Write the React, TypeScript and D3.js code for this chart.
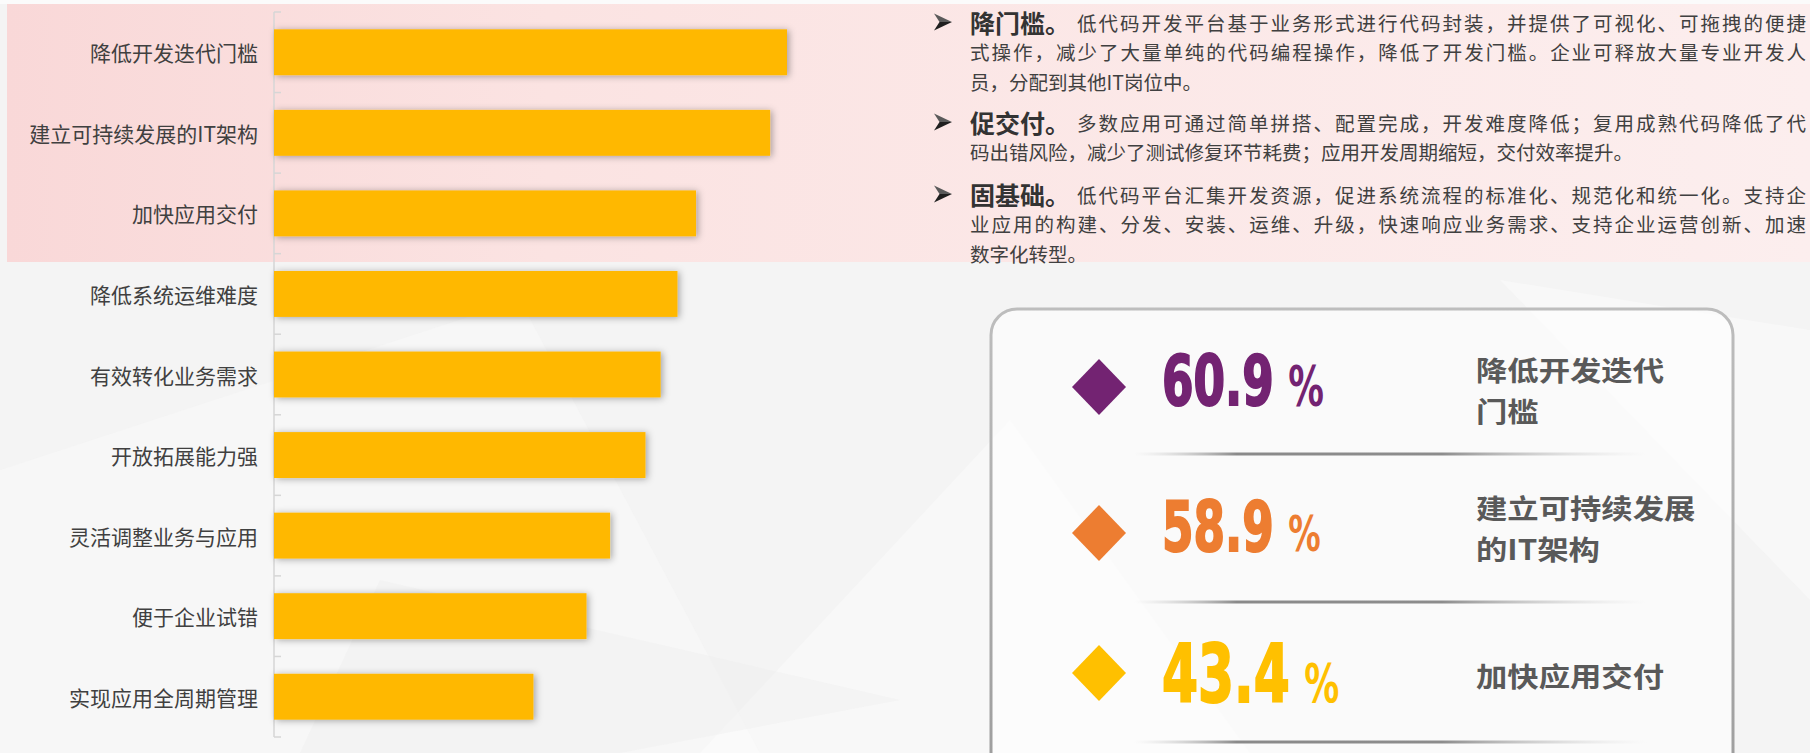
import React from 'react';
import * as d3 from 'd3';

const W = 1810;
const H = 753;

// bar chart data
const categories = [
  '降低开发迭代门槛',
  '建立可持续发展的IT架构',
  '加快应用交付',
  '降低系统运维难度',
  '有效转化业务需求',
  '开放拓展能力强',
  '灵活调整业务与应用',
  '便于企业试错',
  '实现应用全周期管理',
];
const values = [60.9, 58.9, 50.1, 47.9, 45.9, 44.1, 39.9, 37.1, 30.8];

// KPI panel
const kpiValues = ['60.9', '58.9', '43.4'];
const kpiLabels = [['降低开发迭代', '门槛'], ['建立可持续发展', '的IT架构'], ['加快应用交付']];
const kpiColors = ['#732372', '#ED7D31', '#FFC000'];

// text block
const paraTitles = ['降门槛。', '促交付。', '固基础。'];
const paraLines = [
  [
    '低代码开发平台基于业务形式进行代码封装，并提供了可视化、可拖拽的便捷',
    '式操作，减少了大量单纯的代码编程操作，降低了开发门槛。企业可释放大量专业开发人',
    '员，分配到其他IT岗位中。',
  ],
  [
    '多数应用可通过简单拼搭、配置完成，开发难度降低；复用成熟代码降低了代',
    '码出错风险，减少了测试修复环节耗费；应用开发周期缩短，交付效率提升。',
  ],
  [
    '低代码平台汇集开发资源，促进系统流程的标准化、规范化和统一化。支持企',
    '业应用的构建、分发、安装、运维、升级，快速响应业务需求、支持企业运营创新、加速',
    '数字化转型。',
  ],
];

// layout (not data)
const paraTop = [22, 122, 194];
const lineH = 29.5;
const kpiRowY = [387, 533, 673];
const kpiNumSize = [70, 70, 80];
const kpiPctSize = [55, 50, 54];
const kpiLabelY = [369, 507, 675];
const sepY = [454, 602, 742];

const CJK = "'Noto Sans CJK SC', 'Noto Sans', sans-serif";
const NUM = "'DejaVu Sans Condensed', 'DejaVu Sans', sans-serif";

export default function App() {
  const y = d3.scaleBand<string>()
    .domain(categories)
    .range([12, 737])
    .paddingInner(0.43)
    .paddingOuter(0.215);
  const x = d3.scaleLinear()
    .domain([0, d3.max(values) as number])
    .range([274, 787]);

  const ticks = d3.range(categories.length + 1).map(i => y.range()[0] + i * y.step());

  const textL = 970;
  const bodyL = 1077;
  const textR = 1806;

  return (
    <svg width={W} height={H} style={{ position: 'absolute', left: 0, top: 0, display: 'block' }}>
      <defs>
        <linearGradient id="pink" x1="0" x2="1" y1="0" y2="0">
          <stop offset="0" stopColor="#F9D8D8" />
          <stop offset="0.3" stopColor="#FBE3E2" />
          <stop offset="1" stopColor="#FCEEEE" />
        </linearGradient>
        <linearGradient id="sep" x1="0" x2="1" y1="0" y2="0">
          <stop offset="0" stopColor="#cfcfcf" stopOpacity="0" />
          <stop offset="0.2" stopColor="#8a8a8a" />
          <stop offset="0.6" stopColor="#8c8c8c" />
          <stop offset="1" stopColor="#d8d8d8" stopOpacity="0" />
        </linearGradient>
        <linearGradient id="boxStroke" x1="0" x2="0" y1="0" y2="1">
          <stop offset="0" stopColor="#bdbdbd" />
          <stop offset="1" stopColor="#9a9a9a" />
        </linearGradient>
        <filter id="barShadow" x="-10%" y="-60%" width="125%" height="220%">
          <feDropShadow dx="2" dy="1" stdDeviation="3.5" floodColor="#000" floodOpacity="0.33" />
        </filter>
      </defs>

      {/* background */}
      <rect width={W} height={H} fill="#F4F4F4" />
      <polygon points="0,470 520,300 760,753 0,753" fill="#fafafa" opacity={0.5} />
      <polygon points="700,753 1010,420 1250,753" fill="#ffffff" opacity={0.35} />
      <polygon points="1500,280 1810,330 1810,600" fill="#fafafa" opacity={0.6} />
      <polygon points="380,580 900,700 620,753 300,753" fill="#ededed" opacity={0.4} />
      <rect x={0} y={0} width={W} height={4} fill="#FBFBFB" />
      <rect x={7} y={4} width={W - 7} height={258} fill="url(#pink)" />

      {/* axis */}
      <line x1={274} x2={274} y1={ticks[0]} y2={ticks[ticks.length - 1]} stroke="#D6D6D6" strokeWidth={1.5} />
      {ticks.map((t, i) => (
        <line key={i} x1={274} x2={281} y1={t} y2={t} stroke="#D6D6D6" strokeWidth={1.5} />
      ))}

      {/* bars */}
      <g filter="url(#barShadow)">
        {categories.map((c, i) => (
          <rect key={c} x={x(0)} y={y(c)} width={x(values[i]) - x(0)} height={y.bandwidth()} fill="#FFB800" />
        ))}
      </g>
      {categories.map(c => (
        <text key={c} x={258} y={(y(c) as number) + y.bandwidth() / 2} textAnchor="end" dominantBaseline="central"
          fontFamily={CJK} fontSize={21} fill="#404040">{c}</text>
      ))}

      {/* text paragraphs */}
      {paraTitles.map((t, p) => {
        const top = paraTop[p];
        const lines = paraLines[p];
        return (
          <g key={t}>
            <g transform={`translate(934,${top})`}>
              <path d="M0,-8.5 L18,0 L5.5,0 Z" fill="#5a5a5a" />
              <path d="M5.5,0 L18,0 L0,8.5 Z" fill="#1f1f1f" />
            </g>
            <text x={textL} y={top} dominantBaseline="central" fontFamily={CJK} fontSize={25} fontWeight={700}
              fill="#333">{t}</text>
            {lines.map((ln, i) => {
              const lx = i === 0 ? bodyL : textL;
              const justify = i < lines.length - 1;
              return (
                <text key={i} x={lx} y={top + i * lineH} dominantBaseline="central" fontFamily={CJK} fontSize={19.5}
                  fill="#404040" textLength={justify ? textR - lx : undefined}
                  lengthAdjust={justify ? 'spacing' : undefined}>{ln}</text>
              );
            })}
          </g>
        );
      })}

      {/* KPI box */}
      <rect x={991} y={309} width={742} height={520} rx={26} ry={26} fill="#ffffff" fillOpacity={0.55}
        stroke="url(#boxStroke)" strokeWidth={3} />
      {sepY.map((sy, i) => (
        <rect key={i} x={1134} y={sy - 1.5} width={513} height={3} fill="url(#sep)" />
      ))}
      {kpiValues.map((v, i) => {
        const cy = kpiRowY[i];
        const d = d3.line()([[1099, cy - 28], [1126, cy], [1099, cy + 28], [1072, cy]]) + 'Z';
        const base = cy + (i === 2 ? 29 : 18);
        return (
          <g key={v}>
            <path d={d} fill={kpiColors[i]} />
            <g transform={`translate(1162,${base}) scale(0.72,1)`}>
              <text x={0} y={0} fontFamily={NUM} fontWeight={700} fill={kpiColors[i]}>
                <tspan fontSize={kpiNumSize[i]} stroke={kpiColors[i]} strokeWidth={2}>{v}</tspan>
                <tspan dx={20} fontSize={kpiPctSize[i]}>%</tspan>
              </text>
            </g>
            <g transform={`translate(1476,${kpiLabelY[i]}) scale(1.14,1)`}>
              {kpiLabels[i].map((l, j) => (
                <text key={j} x={0} y={j * 40.5} dominantBaseline="central" fontFamily={CJK}
                  fontSize={27.5} fontWeight={700} fill="#595959">{l}</text>
              ))}
            </g>
          </g>
        );
      })}
    </svg>
  );
}
